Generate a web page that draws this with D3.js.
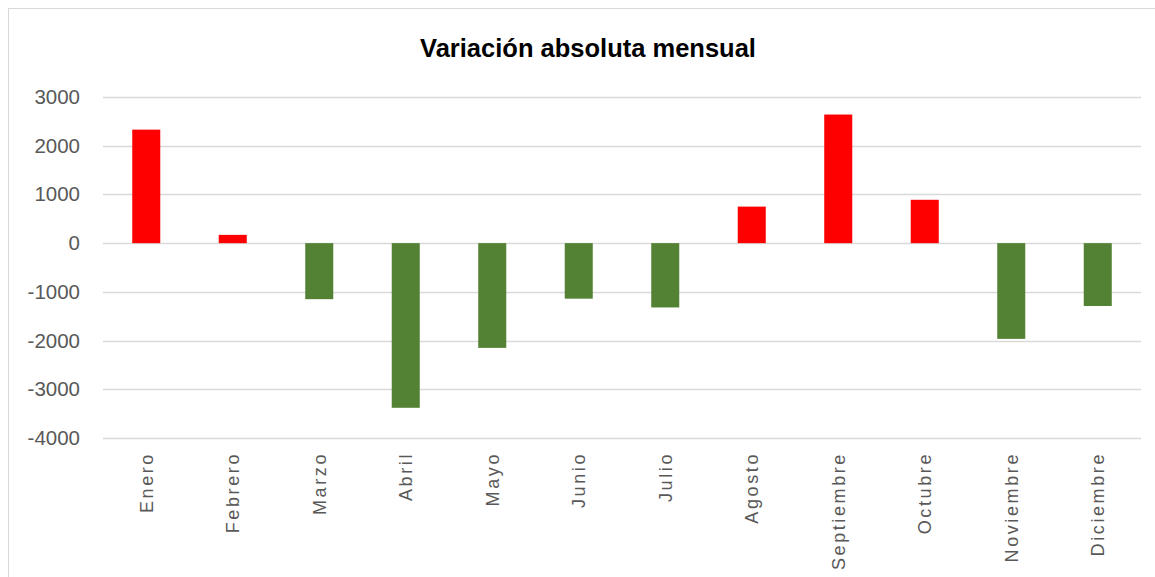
<!DOCTYPE html>
<html>
<head>
<meta charset="utf-8">
<script src="https://cdn.jsdelivr.net/npm/d3@7"></script>
<style>
  body { margin: 0; background: #fff; }
  svg { display: block; font-family: "Liberation Sans", Arial, sans-serif; }
</style>
</head>
<body>
<svg id="chart" width="1155" height="577"></svg>
<script>
var months = ["Enero", "Febrero", "Marzo", "Abril", "Mayo", "Junio", "Julio",
              "Agosto", "Septiembre", "Octubre", "Noviembre", "Diciembre"];
var values = [2330, 170, -1150, -3380, -2150, -1140, -1320, 750, 2640, 890, -1965, -1290];
var yTicks = [3000, 2000, 1000, 0, -1000, -2000, -3000, -4000];

var svg = d3.select("#chart"),
    margin = {top: 97, right: 14, bottom: 139, left: 103},
    width = +svg.attr("width") - margin.left - margin.right,
    height = +svg.attr("height") - margin.top - margin.bottom;

// marco del grafico
svg.append("rect")
    .attr("x", 8.5).attr("y", 8.5)
    .attr("width", 1170).attr("height", 600)
    .attr("fill", "none")
    .attr("stroke", "#d9d9d9");

svg.append("text")
    .attr("x", 588)
    .attr("y", 57)
    .attr("text-anchor", "middle")
    .attr("font-size", 25.5)
    .attr("font-weight", "bold")
    .attr("fill", "#000")
    .text("Variación absoluta mensual");

var g = svg.append("g").attr("transform", "translate(" + margin.left + "," + margin.top + ")");

var x = d3.scaleBand()
    .domain(months)
    .range([0, width])
    .paddingInner(0.676)
    .paddingOuter(0.338);

var y = d3.scaleLinear()
    .domain([-4000, 3000])
    .range([height, 0]);

/* lineas de division */
g.append("g")
    .selectAll("line")
    .data(yTicks)
    .enter().append("line")
      .attr("x1", 0)
      .attr("x2", width)
      .attr("y1", function(d) { return Math.round(y(d)) + 0.5; })
      .attr("y2", function(d) { return Math.round(y(d)) + 0.5; })
      .attr("stroke", "#d9d9d9")
      .attr("stroke-width", 1.5);

/* barras */
g.append("g")
    .selectAll("rect")
    .data(values)
    .enter().append("rect")
      .attr("x", function(d, i) { return x(months[i]); })
      .attr("width", x.bandwidth())
      .attr("y", function(d) { return y(Math.max(0, d)); })
      .attr("height", function(d) { return Math.abs(y(d) - y(0)); })
      .attr("fill", function(d) { return d >= 0 ? "#ff0000" : "#548235"; });

/* eje Y */
var yAxis = g.append("g")
    .call(d3.axisLeft(y).tickValues(yTicks).tickSize(0).tickPadding(23)
      .tickFormat(function(d) { return String(d); }));
yAxis.select(".domain").remove();
yAxis.selectAll("text")
    .attr("font-size", 20.5)
    .attr("font-family", "Liberation Sans, Arial, sans-serif")
    .attr("fill", "#595959");

/* eje X */
var xAxis = g.append("g")
    .attr("transform", "translate(0," + height + ")")
    .call(d3.axisBottom(x).tickSize(0));
xAxis.select(".domain").remove();
xAxis.selectAll("text")
    .attr("font-size", 18)
    .attr("font-family", "Liberation Sans, Arial, sans-serif")
    .attr("letter-spacing", 2.6)
    .attr("fill", "#595959")
    .attr("text-anchor", "end")
    .attr("transform", "rotate(-90)")
    .attr("x", -14)
    .attr("y", 0)
    .attr("dy", "0.35em");
</script>
</body>
</html>
